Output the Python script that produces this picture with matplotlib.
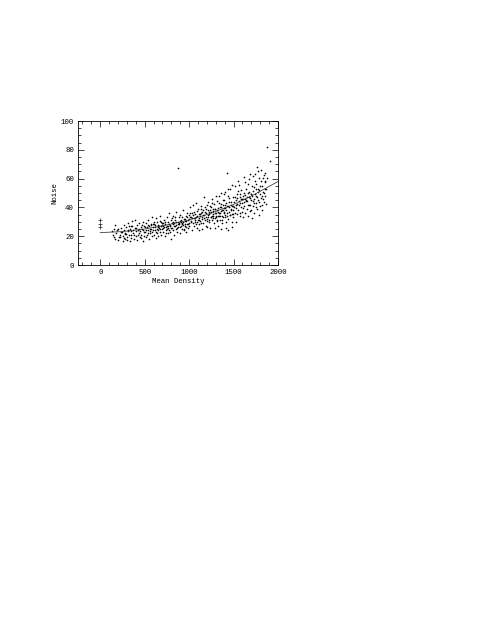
import numpy as np
import matplotlib
matplotlib.use('Agg')
import matplotlib.pyplot as plt
from matplotlib.ticker import MultipleLocator

# (mean density, noise), grouped by density range
low = [(133,23.4),(141,20.5),(152,19.2),(167,27.5),(171,18),(183,22.3),(186,24.6),(197,17.5),(204,25.2),(217,21),
       (223,19.4),(238,26),(241,23.2),(252,16.5),(256,20.3),(267,28),(272,24),(279,18.2),(283,22),(293,26.3),
       (298,17.2),(303,19.5),(314,29),(317,23.4),(326,21),(331,25.3),(337,16.5),(346,27),(351,19),(359,30.4),
       (366,22),(371,24.5),(379,18.3),(387,26),(391,31),(399,20),(404,23.3),(413,27.5),(419,17.5),(424,21),
       (433,25),(437,29),(446,19.2),(451,23.5),(459,26.5),(464,21),(473,28),(479,17),(484,24),(491,20.3),
       (496,27),(342,20.5),(274,21.2),(207,19.5),(421,24),(456,19),(481,30),(362,27.2),(309,24.4),(441,22.3),
       (158,24.8),(229,22.7),(264,18.6),(322,26.8),(377,20.8),(408,25.6),(468,24.7),(493,22.6),(349,23.3),(295,21.4)]
mid = [(503,23.2),(511,29),(517,19.3),(521,26.4),(529,21),(533,31),(541,24.3),(547,18.4),(553,27),(557,22),
       (566,28.3),(569,25),(577,20.4),(583,33),(587,23),(595,26.2),(601,21),(604,30),(613,24),(617,27.5),
       (626,19),(629,32.4),(637,25),(641,22.2),(649,28),(655,20.4),(658,26),(667,30.3),(673,23),(676,34),
       (686,27.4),(689,21),(697,25),(703,29.2),(707,23),(716,31),(719,26.3),(727,20),(733,28.5),(737,24),
       (746,33.2),(749,27),(757,22.3),(763,30),(766,25.4),(776,36),(781,28),(785,23.2),(793,31.4),(799,18),
       (803,26),(811,29.3),(817,24),(821,34),(829,27.2),(835,21),(838,31),(847,25.3),(853,28),(857,37),
       (865,23.2),(871,30),(877,26.4),(881,33),(889,29),(893,22.2),(901,35),(907,27.3),(911,31),(919,25),
       (923,29.4),(931,38),(937,24.2),(941,32),(949,27),(953,30.3),(961,23),(965,34),(973,28.4),(979,36),
       (983,26),(991,31.2),(997,29),(519,24.4),(574,28),(623,23.2),(682,30),(735,22.4),(788,27),(844,33),
       (896,26.3),(946,25),(977,33.2),(561,25),(651,24.2),(701,26),(759,27.4),(814,30),(886,28.2),(934,30),
       (609,28.4),(664,27),(724,30.2),(773,24),(831,29.3),(904,30),(956,28.4),(994,35),(862,26),(921,33.3),
       (507,26.3),(538,27.5),(563,23.4),(592,28.8),(621,26.4),(645,26.6),(669,25.3),(694,27.8),(711,27.3),(742,26.5),
       (769,28.7),(796,25.6),(819,28.2),(849,29.6),(873,28.4),(899,30.7),(926,27.6),(951,31.6),(969,30.4),(987,28.2),
       (543,22.4),(598,24.6),(634,29.7),(691,29.4),(751,24.8),(807,32.3),(841,27.4),(916,28.6),(963,26.3),(999,31.8)]
high = [(1002,27.2),(1009,33),(1013,40.3),(1021,30),(1027,24.2),(1031,36),(1039,29.4),(1043,42),(1051,32.3),(1057,27),
        (1061,35.2),(1069,30),(1073,43),(1081,33.4),(1087,26),(1091,37.3),(1099,31),(1103,39),(1111,28.2),(1117,34),
        (1121,30.4),(1129,41),(1133,36.2),(1141,25),(1147,33.3),(1151,38),(1159,29.2),(1163,47),(1171,35),(1177,31.4),
        (1181,40),(1189,27.3),(1193,36),(1201,32.2),(1207,44),(1211,38.4),(1219,30),(1223,35.3),(1231,41),(1237,26),
        (1241,33.2),(1249,37),(1253,46),(1261,31.3),(1267,39),(1271,35.4),(1279,29),(1283,42.2),(1291,36),(1297,33.3),
        (1301,48),(1309,30.4),(1313,38),(1321,34.2),(1327,27),(1331,43.3),(1339,36),(1343,40.4),(1351,31),(1357,37.2),
        (1361,50),(1369,34.3),(1373,29),(1381,41.4),(1387,37),(1391,45.2),(1399,33),(1403,39.3),(1411,26),(1417,43.4),
        (1421,36),(1429,64),(1433,48.2),(1441,32),(1447,40.3),(1451,37),(1459,53),(1463,34.4),(1471,44),(1477,30.2),
        (1481,41),(1489,38.3),(1493,47),(1499,35.4),(1011,36),(1034,32.4),(1054,37),(1076,28.3),(1094,34),(1114,31.2),
        (1136,29),(1154,34.4),(1174,37),(1196,30.3),(1214,33),(1234,38.2),(1256,34),(1274,37.4),(1294,39),(1316,31.3),
        (1336,34),(1354,42.2),(1376,38),(1394,36.4),(1414,38),(1436,41.3),(1456,35),(1474,39.2),(1496,41),(1024,33.3),
        (1066,31),(1106,35.4),(1144,37),(1186,33.2),(1226,31),(1264,34.3),(1306,36),(1346,36.4),(1384,33),(1426,41.2),
        (1466,38),(1491,33.3),(1246,40),(1286,32.4),(1324,37),(1366,38.2),(1406,35),(1444,46.3),(1404,51),(1377,45.4),
        (1017,30.7),(1041,34.6),(1063,32.7),(1084,29.6),(1108,32.8),(1126,35.6),(1149,31.7),(1168,32.6),(1191,38.7),(1209,34.6),
        (1228,36.7),(1251,33.6),(1269,32.7),(1288,38.6),(1304,33.7),(1329,39.6),(1348,33.7),(1363,40.6),(1389,39.7),(1408,41.6),
        (1428,33.7),(1449,43.6),(1468,41.7),(1486,35.6),(1138,39.2),(1199,41.6),(1258,42.8),(1318,44.7),(1341,47.6),(1397,49.3),
        (1438,52.6),(1483,55.4),(1112,24.6),(1204,26.3),(1293,25.7),(1358,24.8),(1419,29.6),(1443,24.4),(1478,26.6),(1367,31.2)]
top = [(1504,40.3),(1513,55),(1517,36.4),(1526,45),(1531,30.2),(1534,49),(1543,42.3),(1549,38),(1553,58),(1561,44.4),
       (1567,34),(1571,47.2),(1579,40),(1583,52.3),(1591,37),(1597,43.4),(1601,48),(1609,33.2),(1613,61),(1621,41.3),
       (1627,46),(1631,36.4),(1639,53),(1643,44.2),(1651,39),(1657,50.3),(1661,34),(1669,47.4),(1673,42),(1681,63),
       (1687,37.2),(1691,49),(1699,45.3),(1703,55),(1711,32.4),(1717,41),(1721,51.2),(1729,46),(1733,36.3),(1741,58),
       (1747,43.4),(1751,48),(1759,68),(1763,39.2),(1771,53),(1777,45.3),(1781,35),(1789,60.4),(1793,49),(1801,41.2),
       (1807,66),(1811,46.3),(1819,55),(1823,38.4),(1831,51),(1837,62.2),(1841,44),(1849,57.3),(1853,48),(1861,42.4),
       (1867,53),(1873,60.2),(1516,47),(1546,51.3),(1576,43),(1606,39.4),(1636,45),(1666,56.2),(1696,38),(1726,43.3),
       (1756,56),(1786,52.4),(1816,42),(1846,50.2),(1529,42),(1569,36.3),(1611,46),(1649,47.4),(1689,42),(1731,54.2),
       (1769,47),(1809,58.3),(1851,64),(1749,40.4),(1791,44),(1701,49.2),(1659,42),(1619,50.3),(1581,46),(1541,35.4),
       (1508,43.6),(1522,39.7),(1538,46.6),(1556,41.7),(1573,49.6),(1593,45.7),(1616,43.6),(1634,48.7),(1654,44.6),(1671,50.8),
       (1684,46.7),(1706,47.6),(1719,44.7),(1736,49.6),(1754,52.7),(1774,50.6),(1796,54.7),(1821,47.6),(1834,45.7),(1857,52.6),
       (1564,55.6),(1624,57.7),(1677,59.4),(1714,61.6),(1744,63.4),(1779,65.6),(1826,60.4),(1859,58.6)]
outliers = [(870,67.5),(1880,82),(1905,72)]

# fitted curve, noise as a function of density
fit_density = [0, 250, 500, 750, 1000, 1250, 1500, 1750, 2000]
fit_noise = [22.5, 23.2, 25, 27.8, 31.3, 36, 42, 49.5, 58]

# the plus signs at zero density
zero_density = [0, 0, 0]
zero_noise = [31, 28.2, 26.5]

pts = np.array(low + mid + high + top + outliers)

plt.rcParams['font.family'] = ['Liberation Mono', 'DejaVu Sans Mono']

fig = plt.figure(figsize=(4.8, 6.21), dpi=100)
ax = fig.add_axes([78/480, 1 - 265/621, 200/480, 144/621])

ax.scatter(pts[:, 0], pts[:, 1], s=1.4, c='black', linewidths=0, marker='o')
ax.plot(fit_density, fit_noise, color='#333333', lw=0.55)
ax.plot(zero_density, zero_noise, '+', color='#222222', ms=3.2, mew=0.5)

ax.set_xlim(-250, 2000)
ax.set_ylim(0, 100)
ax.xaxis.set_major_locator(MultipleLocator(500))
ax.xaxis.set_minor_locator(MultipleLocator(100))
ax.yaxis.set_major_locator(MultipleLocator(20))
ax.yaxis.set_minor_locator(MultipleLocator(5))
ax.tick_params(which='major', direction='in', top=True, right=True, length=4, width=0.5, labelsize=5.3, pad=3)
ax.tick_params(which='minor', direction='in', top=True, right=True, length=2, width=0.5)
for s in ax.spines.values():
    s.set_linewidth(0.6)

ax.set_xlabel('Mean Density', fontsize=5.3, labelpad=1)
ax.set_ylabel('Noise', fontsize=5.3, labelpad=2)

fig.savefig('out.png', dpi=100)
